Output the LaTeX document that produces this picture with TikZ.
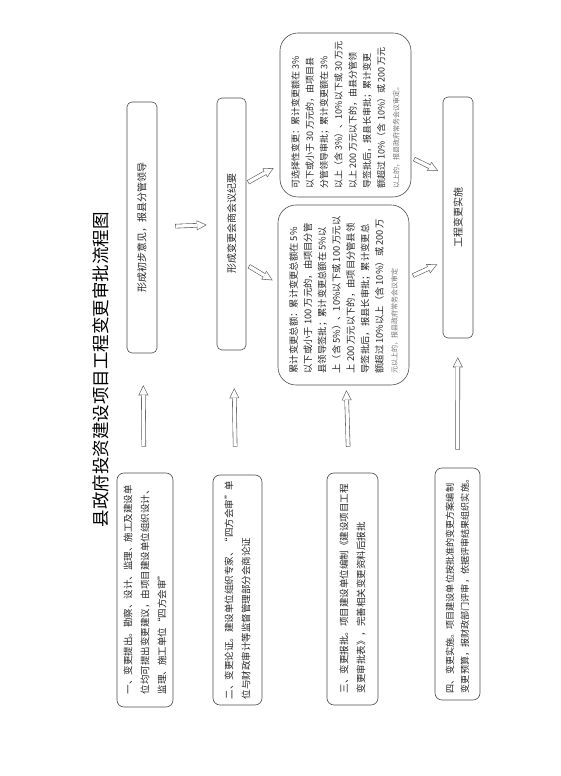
\documentclass[tikz,border=0pt]{standalone}
\usepackage{fontspec}
\setmainfont{Noto Sans CJK SC}
\usetikzlibrary{arrows.meta}

\begin{document}
\begin{tikzpicture}[rotate=90, transform shape, x=1pt, y=1pt,
  stage/.style={rectangle, draw=black!70, line width=0.6pt, rounded corners=7pt, align=left, inner xsep=2pt, text=black!85, font=\fontsize{9.5}{17}\selectfont},
  result/.style={rectangle, draw=black!70, line width=0.6pt, rounded corners=5pt, align=center, text=black!85, font=\fontsize{10}{12}\selectfont},
  rulebox/.style={rectangle, draw=black!70, line width=0.6pt, rounded corners=18pt, align=left, inner xsep=2pt, text=black!85},
  harrow/.style 2 args={draw=black!65, line width=4.5pt, shorten <=#1pt, shorten >=#2pt,
    -{Triangle[length=10pt, width=10pt, line width=0pt]},
    postaction={draw=white, line width=3.3pt, shorten <=#1pt+0.6pt, shorten >=#2pt+1.34pt,
      -{Triangle[length=8.06pt, width=8.06pt, line width=0pt]}}}
]
\useasboundingbox (0,0) rectangle (776,560);

\node[font=\fontsize{17.5}{20}\selectfont] (title) at (406,459) {县政府投资建设项目工程变更审批流程图};

\node[stage, minimum width=234pt, minimum height=56pt] (propose) at (186,415) {一、变更提出。勘察、设计、监理、施工及建设单\\位均可提出变更建议，由项目建设单位组织设计、\\监理、施工单位“四方会审”};
\node[stage, minimum width=230pt, minimum height=49pt] (argue) at (186,322.5) {二、变更论证。建设单位组织专家、“四方会审”单\\位与财政审计等监督管理部分会商论证};
\node[stage, minimum width=232pt, minimum height=51pt] (submit) at (187,207.5) {三、变更报批。项目建设单位编制《建设项目工程\\变更审批表》，完善相关变更资料后报批};
\node[stage, minimum width=232pt, minimum height=45pt, font=\fontsize{9.1}{15}\selectfont] (execute) at (192,102.5) {四、变更实施。项目建设单位按批准的变更方案编制\\变更预算，报财政部门评审，依据评审结果组织实施。};

\node[result, minimum width=251pt, minimum height=30pt] (opinion) at (548.5,418) {形成初步意见，报县分管领导};
\node[result, minimum width=252pt, minimum height=29pt] (meeting) at (552,328.5) {形成变更会商会议纪要};
\node[result, minimum width=241pt, minimum height=30pt] (implement) at (558.5,102) {工程变更实施};

\node[rulebox, minimum width=164pt, minimum height=131pt, font=\fontsize{9}{14.3}\selectfont] (select) at (661,214.5) {可选择性变更：累计变更额在 3\%\\以下或小于 30 万元的，由项目县\\分管领导审批；累计变更额在 3\%\\以上（含 3\%）、10\%以下或 30 万元\\以上 200 万元以下的，由县分管领\\导签批后，报县长审批；累计变更\\额超过 10\%（含 10\%）或 200 万元\\{\fontsize{7}{8}\selectfont\color{black!55}以上的，报县政府常务会议审定。}};
\node[rulebox, minimum width=180pt, minimum height=131pt, font=\fontsize{9.3}{14.3}\selectfont] (accum) at (481,216.5) {累计变更总额：累计变更总额在 5\%\\以下或小于 100 万元的，由项目分管\\县领导签批；累计变更总额在 5\%以\\上（含 5\%）、10\%以下或 100 万元以\\上 200 万元以下的，由项目分管县领\\导签批后，报县长审批；累计变更总\\额超过 10\%以上（含 10\%）或 200 万\\{\fontsize{7}{8}\selectfont\color{black!55}元以上的，报县政府常务会议审定}};

\draw[harrow={26}{32}] (propose) -- (opinion);
\draw[harrow={28}{38}] (argue) -- (meeting);
\draw[harrow={26}{5}] (submit) -- (accum);
\draw[harrow={18}{19}] (execute) -- (implement);
\draw[harrow={18}{10}] (opinion) -- (meeting);
\draw[harrow={2}{7}] (meeting.340) -- (select.127);
\draw[harrow={3}{6}] (meeting.200) -- (accum.80);
\draw[harrow={3}{5}] (select.237) -- (implement.19);
\draw[harrow={4}{6}] (accum.285) -- (implement.161);

\end{tikzpicture}
\end{document}
